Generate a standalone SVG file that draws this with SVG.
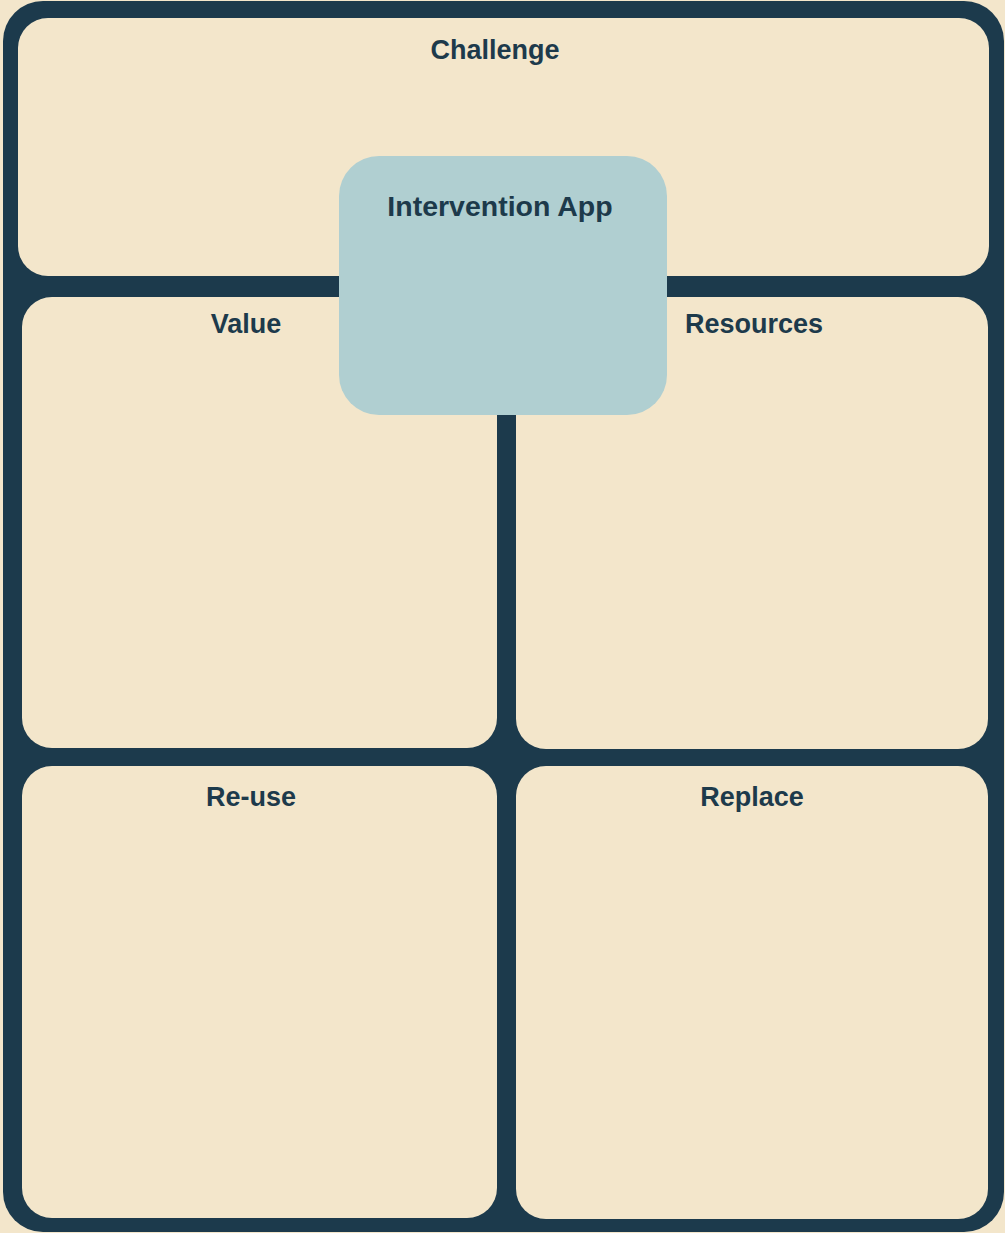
<svg xmlns="http://www.w3.org/2000/svg" width="1005" height="1233" viewBox="0 0 1005 1233">
<style>
.panel{fill:#F3E6CB}
.label{font-family:"Liberation Sans",Arial,sans-serif;font-weight:bold;font-size:27px;fill:#1D3A4B;text-anchor:middle}
.big{font-size:28.5px}
</style>
<rect x="0" y="0" width="1005" height="1233" fill="#F3E6CB"/>
<g id="frame">
<rect x="3" y="1" width="1001" height="1231" rx="40" fill="#1C3A4C"/>
</g>
<g id="connectors"></g>
<g id="challenge">
<rect class="panel" x="18" y="18" width="971" height="258" rx="30"/>
<text class="label" x="495" y="59">Challenge</text>
</g>
<g id="value">
<rect class="panel" x="22" y="297" width="475" height="451" rx="30"/>
<text class="label" x="246" y="333">Value</text>
</g>
<g id="resources">
<rect class="panel" x="516" y="297" width="472" height="452" rx="30"/>
<text class="label" x="754" y="333">Resources</text>
</g>
<g id="reuse">
<rect class="panel" x="22" y="766" width="475" height="452" rx="30"/>
<text class="label" x="251" y="806">Re-use</text>
</g>
<g id="replace">
<rect class="panel" x="516" y="766" width="472" height="453" rx="30"/>
<text class="label" x="752" y="806">Replace</text>
</g>
<g id="intervention-app">
<rect x="339" y="156" width="328" height="259" rx="40" fill="#B0CFD1"/>
<text class="label big" x="500" y="216">Intervention App</text>
</g>
</svg>
